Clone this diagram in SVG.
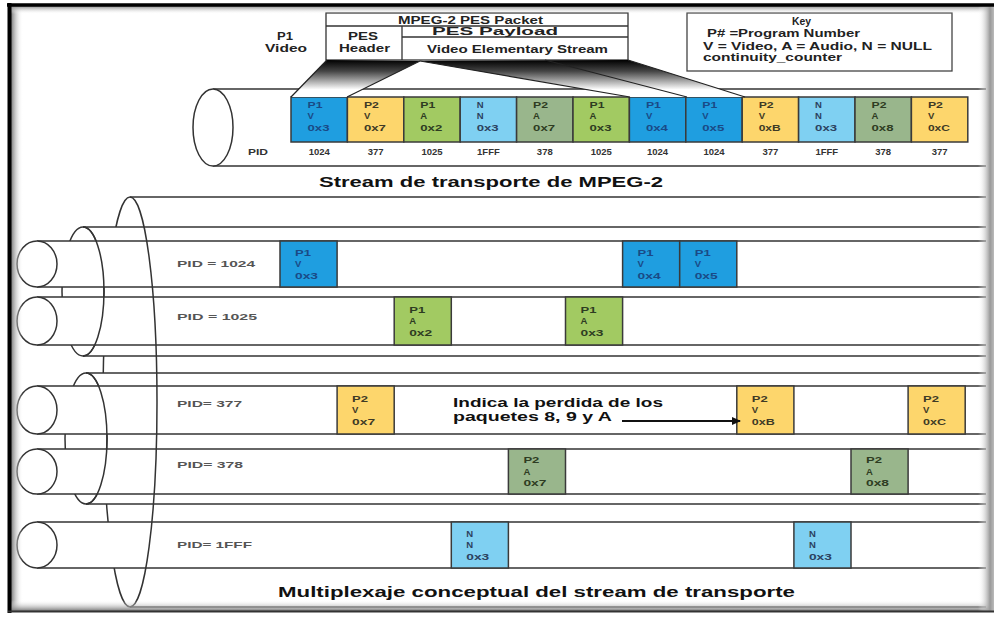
<svg xmlns="http://www.w3.org/2000/svg" width="994" height="617" viewBox="0 0 994 617">
<style>
text{font-family:"Liberation Sans",Arial,sans-serif;font-weight:bold}
.ln{stroke:#333;stroke-width:1.5;fill:none}
.wf{fill:#fff;stroke:none}
.el{fill:#fff;stroke:#333;stroke-width:1.5}
.pk{stroke:#3a3a3a;stroke-width:1.5}
.db{fill:#1f9ee0}.lb{fill:#7fd0f2}.ye{fill:#fdd66c}.lg{fill:#a2ca62}.gg{fill:#99b68c}
.tdb{fill:#1a4a86}.tlb{fill:#2c4260}.tye{fill:#3e3a26}.tg{fill:#2e3c22}
.bt{font-size:9.5px}
.hd{font-size:10px;fill:#222}
.ky{font-size:10.5px;fill:#222}
.pid{font-size:9.5px;fill:#333}
.lab{font-size:9.5px;fill:#555}
.ttl{font-size:15px;fill:#111}
.ann{font-size:12.5px;fill:#111}
.wl{stroke:#222;stroke-width:1.2}
</style>
<defs>
<linearGradient id="wedge" x1="0" y1="0" x2="0" y2="1">
<stop offset="0" stop-color="#000"/><stop offset="0.3" stop-color="#444"/><stop offset="0.8" stop-color="#fff"/>
</linearGradient>
<linearGradient id="gL" x1="0" y1="0" x2="1" y2="0"><stop offset="0" stop-color="#777"/><stop offset="1" stop-color="#fff" stop-opacity="0"/></linearGradient>
<linearGradient id="gT" x1="0" y1="0" x2="0" y2="1"><stop offset="0" stop-color="#888"/><stop offset="1" stop-color="#fff" stop-opacity="0"/></linearGradient>
<linearGradient id="gB" x1="0" y1="1" x2="0" y2="0"><stop offset="0" stop-color="#777"/><stop offset="1" stop-color="#fff" stop-opacity="0"/></linearGradient>
<linearGradient id="gR" x1="1" y1="0" x2="0" y2="0"><stop offset="0" stop-color="#bbb"/><stop offset="0.25" stop-color="#999"/><stop offset="1" stop-color="#fff" stop-opacity="0"/></linearGradient>
<marker id="ah" markerWidth="9" markerHeight="8" refX="8" refY="4" orient="auto" markerUnits="userSpaceOnUse"><path d="M0,0 L9,4 L0,8 z" fill="#111"/></marker>
</defs>
<rect x="0" y="0" width="994" height="617" fill="#fff"/>

<!-- Header: PES packet -->
<g id="pes-packet">
<rect x="326" y="13" width="302" height="47" fill="#fff" stroke="#333" stroke-width="1.3"/>
<line x1="326" y1="26" x2="628" y2="26" stroke="#333" stroke-width="1.3"/>
<line x1="402" y1="26" x2="402" y2="60" stroke="#333" stroke-width="1.3"/>
<line x1="402" y1="37" x2="628" y2="37" stroke="#333" stroke-width="1.3"/>
<text class="hd" x="398" y="23.5" textLength="145" lengthAdjust="spacingAndGlyphs">MPEG-2 PES Packet</text>
<text class="hd" x="432" y="35" textLength="126" lengthAdjust="spacingAndGlyphs">PES Payload</text>
<text class="hd" x="348" y="39.5" textLength="30" lengthAdjust="spacingAndGlyphs">PES</text>
<text class="hd" x="339" y="52" textLength="51" lengthAdjust="spacingAndGlyphs">Header</text>
<text class="hd" x="427" y="52.5" textLength="181" lengthAdjust="spacingAndGlyphs">Video Elementary Stream</text>
</g>
<g id="p1-video">
<text class="hd" x="277" y="39.5" textLength="16" lengthAdjust="spacingAndGlyphs">P1</text>
<text class="hd" x="265" y="52" textLength="42" lengthAdjust="spacingAndGlyphs">Video</text>
</g>
<g id="key">
<rect x="687" y="13" width="265" height="58" fill="#fff" stroke="#444" stroke-width="1.3"/>
<text class="ky" x="792" y="25" textLength="19" lengthAdjust="spacingAndGlyphs">Key</text>
<text class="ky" x="707" y="37" textLength="153" lengthAdjust="spacingAndGlyphs">P# =Program Number</text>
<text class="ky" x="703" y="49.5" textLength="229" lengthAdjust="spacingAndGlyphs">V = Video, A = Audio, N = NULL</text>
<text class="ky" x="703" y="61" textLength="139" lengthAdjust="spacingAndGlyphs">continuity_counter</text>
</g>

<!-- Top transport stream pipe -->
<g id="ts-pipe">
<rect class="wf" x="213" y="89" width="773" height="77"/>
<line class="ln" x1="213" y1="89" x2="986" y2="89"/>
<line class="ln" x1="213" y1="166" x2="986" y2="166"/>
<ellipse class="el" cx="213" cy="127.5" rx="20" ry="38.5"/>
<text class="pid" x="248" y="155" textLength="20" lengthAdjust="spacingAndGlyphs">PID</text>
</g>

<g id="ts-packets">
<g id="ts0"><rect class="pk db" x="291" y="97" width="56.4" height="45"/><text class="bt tdb" x="307.5" y="108" textLength="15" lengthAdjust="spacingAndGlyphs">P1</text><text class="bt tdb" x="307.5" y="119">V</text><text class="bt tdb" x="307.5" y="130.5" textLength="22" lengthAdjust="spacingAndGlyphs">0x3</text><text class="pid" x="319.2" y="155" text-anchor="middle">1024</text></g>
<g id="ts1"><rect class="pk ye" x="347.4" y="97" width="56.4" height="45"/><text class="bt tye" x="363.9" y="108" textLength="15" lengthAdjust="spacingAndGlyphs">P2</text><text class="bt tye" x="363.9" y="119">V</text><text class="bt tye" x="363.9" y="130.5" textLength="22" lengthAdjust="spacingAndGlyphs">0x7</text><text class="pid" x="375.6" y="155" text-anchor="middle">377</text></g>
<g id="ts2"><rect class="pk lg" x="403.8" y="97" width="56.4" height="45"/><text class="bt tg" x="420.3" y="108" textLength="15" lengthAdjust="spacingAndGlyphs">P1</text><text class="bt tg" x="420.3" y="119">A</text><text class="bt tg" x="420.3" y="130.5" textLength="22" lengthAdjust="spacingAndGlyphs">0x2</text><text class="pid" x="432" y="155" text-anchor="middle">1025</text></g>
<g id="ts3"><rect class="pk lb" x="460.2" y="97" width="56.4" height="45"/><text class="bt tlb" x="476.7" y="108">N</text><text class="bt tlb" x="476.7" y="119">N</text><text class="bt tlb" x="476.7" y="130.5" textLength="22" lengthAdjust="spacingAndGlyphs">0x3</text><text class="pid" x="488.4" y="155" text-anchor="middle">1FFF</text></g>
<g id="ts4"><rect class="pk gg" x="516.6" y="97" width="56.4" height="45"/><text class="bt tg" x="533.1" y="108" textLength="15" lengthAdjust="spacingAndGlyphs">P2</text><text class="bt tg" x="533.1" y="119">A</text><text class="bt tg" x="533.1" y="130.5" textLength="22" lengthAdjust="spacingAndGlyphs">0x7</text><text class="pid" x="544.8" y="155" text-anchor="middle">378</text></g>
<g id="ts5"><rect class="pk lg" x="573" y="97" width="56.4" height="45"/><text class="bt tg" x="589.5" y="108" textLength="15" lengthAdjust="spacingAndGlyphs">P1</text><text class="bt tg" x="589.5" y="119">A</text><text class="bt tg" x="589.5" y="130.5" textLength="22" lengthAdjust="spacingAndGlyphs">0x3</text><text class="pid" x="601.2" y="155" text-anchor="middle">1025</text></g>
<g id="ts6"><rect class="pk db" x="629.4" y="97" width="56.4" height="45"/><text class="bt tdb" x="645.9" y="108" textLength="15" lengthAdjust="spacingAndGlyphs">P1</text><text class="bt tdb" x="645.9" y="119">V</text><text class="bt tdb" x="645.9" y="130.5" textLength="22" lengthAdjust="spacingAndGlyphs">0x4</text><text class="pid" x="657.6" y="155" text-anchor="middle">1024</text></g>
<g id="ts7"><rect class="pk db" x="685.8" y="97" width="56.4" height="45"/><text class="bt tdb" x="702.3" y="108" textLength="15" lengthAdjust="spacingAndGlyphs">P1</text><text class="bt tdb" x="702.3" y="119">V</text><text class="bt tdb" x="702.3" y="130.5" textLength="22" lengthAdjust="spacingAndGlyphs">0x5</text><text class="pid" x="714" y="155" text-anchor="middle">1024</text></g>
<g id="ts8"><rect class="pk ye" x="742.2" y="97" width="56.4" height="45"/><text class="bt tye" x="758.7" y="108" textLength="15" lengthAdjust="spacingAndGlyphs">P2</text><text class="bt tye" x="758.7" y="119">V</text><text class="bt tye" x="758.7" y="130.5" textLength="22" lengthAdjust="spacingAndGlyphs">0xB</text><text class="pid" x="770.4" y="155" text-anchor="middle">377</text></g>
<g id="ts9"><rect class="pk lb" x="798.6" y="97" width="56.4" height="45"/><text class="bt tlb" x="815.1" y="108">N</text><text class="bt tlb" x="815.1" y="119">N</text><text class="bt tlb" x="815.1" y="130.5" textLength="22" lengthAdjust="spacingAndGlyphs">0x3</text><text class="pid" x="826.8" y="155" text-anchor="middle">1FFF</text></g>
<g id="ts10"><rect class="pk gg" x="855" y="97" width="56.4" height="45"/><text class="bt tg" x="871.5" y="108" textLength="15" lengthAdjust="spacingAndGlyphs">P2</text><text class="bt tg" x="871.5" y="119">A</text><text class="bt tg" x="871.5" y="130.5" textLength="22" lengthAdjust="spacingAndGlyphs">0x8</text><text class="pid" x="883.2" y="155" text-anchor="middle">378</text></g>
<g id="ts11"><rect class="pk ye" x="911.4" y="97" width="56.4" height="45"/><text class="bt tye" x="927.9" y="108" textLength="15" lengthAdjust="spacingAndGlyphs">P2</text><text class="bt tye" x="927.9" y="119">V</text><text class="bt tye" x="927.9" y="130.5" textLength="22" lengthAdjust="spacingAndGlyphs">0xC</text><text class="pid" x="939.6" y="155" text-anchor="middle">377</text></g>
</g>

<g id="title-ts"><text class="ttl" x="319" y="187" textLength="344" lengthAdjust="spacingAndGlyphs">Stream de transporte de MPEG-2</text></g>

<!-- Multiplex pipes -->
<g id="pipe-mux">
<rect class="wf" x="130" y="197" width="856" height="410"/>
<line class="ln" x1="130" y1="197" x2="986" y2="197"/>
<line class="ln" x1="130" y1="607" x2="986" y2="607"/>
<path class="ln" d="M130,197 A27,205 0 0 0 130,607"/>
</g>

<g id="pipe-program1">
<rect class="wf" x="83" y="227" width="903" height="129"/>
<line class="ln" x1="83" y1="227" x2="986" y2="227"/>
<line class="ln" x1="83" y1="356" x2="986" y2="356"/>
<ellipse class="el" cx="83" cy="291.5" rx="21" ry="64.5"/>
</g>
<g id="pipe-1024">
<rect class="wf" x="37" y="241" width="949" height="46"/>
<line class="ln" x1="37" y1="241" x2="986" y2="241"/>
<line class="ln" x1="37" y1="287" x2="986" y2="287"/>
<ellipse class="el" cx="37" cy="264" rx="20" ry="23"/>
<text class="lab" x="177" y="267" textLength="78" lengthAdjust="spacingAndGlyphs">PID = 1024</text>
</g>
<g id="pipe-1025">
<rect class="wf" x="37" y="297" width="949" height="48"/>
<line class="ln" x1="37" y1="297" x2="986" y2="297"/>
<line class="ln" x1="37" y1="345" x2="986" y2="345"/>
<ellipse class="el" cx="37" cy="321" rx="20" ry="24"/>
<text class="lab" x="177" y="320" textLength="80" lengthAdjust="spacingAndGlyphs">PID = 1025</text>
</g>
<path class="ln" d="M83,227 A21,64.5 0 0 1 83,356"/>

<g id="pipe-program2">
<rect class="wf" x="86" y="373" width="900" height="131"/>
<line class="ln" x1="86" y1="373" x2="986" y2="373"/>
<line class="ln" x1="86" y1="504" x2="986" y2="504"/>
<ellipse class="el" cx="86" cy="438.5" rx="21" ry="65.5"/>
</g>
<g id="pipe-377">
<rect class="wf" x="37" y="386" width="949" height="48"/>
<line class="ln" x1="37" y1="386" x2="986" y2="386"/>
<line class="ln" x1="37" y1="434" x2="986" y2="434"/>
<ellipse class="el" cx="37" cy="410" rx="20" ry="24"/>
<text class="lab" x="177" y="407" textLength="65" lengthAdjust="spacingAndGlyphs">PID= 377</text>
</g>
<g id="pipe-378">
<rect class="wf" x="37" y="449" width="949" height="45"/>
<line class="ln" x1="37" y1="449" x2="986" y2="449"/>
<line class="ln" x1="37" y1="494" x2="986" y2="494"/>
<ellipse class="el" cx="37" cy="471.5" rx="20" ry="22.5"/>
<text class="lab" x="177" y="468" textLength="66" lengthAdjust="spacingAndGlyphs">PID= 378</text>
</g>
<path class="ln" d="M86,373 A21,65.5 0 0 1 86,504"/>

<g id="pipe-1FFF">
<rect class="wf" x="37" y="522" width="949" height="46"/>
<line class="ln" x1="37" y1="522" x2="986" y2="522"/>
<line class="ln" x1="37" y1="568" x2="986" y2="568"/>
<ellipse class="el" cx="37" cy="545" rx="20" ry="23"/>
<text class="lab" x="177" y="548" textLength="75" lengthAdjust="spacingAndGlyphs">PID= 1FFF</text>
</g>
<path class="ln" d="M130,197 A27,205 0 0 1 130,607"/>

<!-- Demultiplexed packets -->
<g id="pk-1024-0x3"><rect class="pk db" x="280" y="241" width="57.1" height="46"/><text class="bt tdb" x="295" y="255.5" textLength="16" lengthAdjust="spacingAndGlyphs">P1</text><text class="bt tdb" x="295" y="267">V</text><text class="bt tdb" x="295" y="278.5" textLength="23" lengthAdjust="spacingAndGlyphs">0x3</text></g>
<g id="pk-1024-0x4"><rect class="pk db" x="622.6" y="241" width="57.1" height="46"/><text class="bt tdb" x="637.6" y="255.5" textLength="16" lengthAdjust="spacingAndGlyphs">P1</text><text class="bt tdb" x="637.6" y="267">V</text><text class="bt tdb" x="637.6" y="278.5" textLength="23" lengthAdjust="spacingAndGlyphs">0x4</text></g>
<g id="pk-1024-0x5"><rect class="pk db" x="679.7" y="241" width="57.1" height="46"/><text class="bt tdb" x="694.7" y="255.5" textLength="16" lengthAdjust="spacingAndGlyphs">P1</text><text class="bt tdb" x="694.7" y="267">V</text><text class="bt tdb" x="694.7" y="278.5" textLength="23" lengthAdjust="spacingAndGlyphs">0x5</text></g>

<g id="pk-1025-0x2"><rect class="pk lg" x="394.2" y="297" width="57.1" height="48"/><text class="bt tg" x="409.2" y="312.5" textLength="16" lengthAdjust="spacingAndGlyphs">P1</text><text class="bt tg" x="409.2" y="324">A</text><text class="bt tg" x="409.2" y="335.5" textLength="23" lengthAdjust="spacingAndGlyphs">0x2</text></g>
<g id="pk-1025-0x3"><rect class="pk lg" x="565.5" y="297" width="57.1" height="48"/><text class="bt tg" x="580.5" y="312.5" textLength="16" lengthAdjust="spacingAndGlyphs">P1</text><text class="bt tg" x="580.5" y="324">A</text><text class="bt tg" x="580.5" y="335.5" textLength="23" lengthAdjust="spacingAndGlyphs">0x3</text></g>

<g id="pk-377-0x7"><rect class="pk ye" x="337.1" y="386" width="57.1" height="48"/><text class="bt tye" x="352.1" y="401.5" textLength="16" lengthAdjust="spacingAndGlyphs">P2</text><text class="bt tye" x="352.1" y="413">V</text><text class="bt tye" x="352.1" y="424.5" textLength="23" lengthAdjust="spacingAndGlyphs">0x7</text></g>
<g id="pk-377-0xB"><rect class="pk ye" x="736.8" y="386" width="57.1" height="48"/><text class="bt tye" x="751.8" y="401.5" textLength="16" lengthAdjust="spacingAndGlyphs">P2</text><text class="bt tye" x="751.8" y="413">V</text><text class="bt tye" x="751.8" y="424.5" textLength="23" lengthAdjust="spacingAndGlyphs">0xB</text></g>
<g id="pk-377-0xC"><rect class="pk ye" x="908.1" y="386" width="57.1" height="48"/><text class="bt tye" x="923.1" y="401.5" textLength="16" lengthAdjust="spacingAndGlyphs">P2</text><text class="bt tye" x="923.1" y="413">V</text><text class="bt tye" x="923.1" y="424.5" textLength="23" lengthAdjust="spacingAndGlyphs">0xC</text></g>

<g id="pk-378-0x7"><rect class="pk gg" x="508.4" y="449" width="57.1" height="45"/><text class="bt tg" x="523.4" y="463" textLength="16" lengthAdjust="spacingAndGlyphs">P2</text><text class="bt tg" x="523.4" y="474.5">A</text><text class="bt tg" x="523.4" y="486" textLength="23" lengthAdjust="spacingAndGlyphs">0x7</text></g>
<g id="pk-378-0x8"><rect class="pk gg" x="851" y="449" width="57.1" height="45"/><text class="bt tg" x="866" y="463" textLength="16" lengthAdjust="spacingAndGlyphs">P2</text><text class="bt tg" x="866" y="474.5">A</text><text class="bt tg" x="866" y="486" textLength="23" lengthAdjust="spacingAndGlyphs">0x8</text></g>

<g id="pk-1FFF-a"><rect class="pk lb" x="451.3" y="522" width="57.1" height="46"/><text class="bt tlb" x="466.3" y="536.5">N</text><text class="bt tlb" x="466.3" y="548">N</text><text class="bt tlb" x="466.3" y="559.5" textLength="23" lengthAdjust="spacingAndGlyphs">0x3</text></g>
<g id="pk-1FFF-b"><rect class="pk lb" x="793.9" y="522" width="57.1" height="46"/><text class="bt tlb" x="808.9" y="536.5">N</text><text class="bt tlb" x="808.9" y="548">N</text><text class="bt tlb" x="808.9" y="559.5" textLength="23" lengthAdjust="spacingAndGlyphs">0x3</text></g>

<g id="annotation">
<text class="ann" x="453" y="406.5" textLength="210" lengthAdjust="spacingAndGlyphs">Indica la perdida de los</text>
<text class="ann" x="453" y="421" textLength="159" lengthAdjust="spacingAndGlyphs">paquetes 8, 9 y A</text>
</g>

<g id="title-mux"><text class="ttl" x="278" y="597" textLength="517" lengthAdjust="spacingAndGlyphs">Multiplexaje conceptual del stream de transporte</text></g>

<!-- Connectors: zoom wedges and annotation arrow -->
<g id="connectors">
<polygon points="327,60 420,61 347,97 291,97" fill="url(#wedge)"/>
<line class="wl" x1="327" y1="60" x2="291" y2="97"/>
<line class="wl" x1="420" y1="61" x2="347" y2="97"/>
<polygon points="420,61 628,60 745,97 630,97" fill="url(#wedge)"/>
<line class="wl" x1="420" y1="61" x2="630" y2="97"/>
<line class="wl" x1="545" y1="60" x2="687" y2="97"/>
<line class="wl" x1="628" y1="60" x2="745" y2="97"/>
<line x1="622" y1="421" x2="740" y2="421" stroke="#111" stroke-width="2" marker-end="url(#ah)"/>
</g>

<!-- Frame -->
<g id="frame">
<rect x="11" y="6" width="12" height="605" fill="url(#gL)"/>
<rect x="11" y="6" width="982" height="8" fill="url(#gT)"/>
<rect x="11" y="600" width="982" height="11" fill="url(#gB)"/>
<rect x="978" y="6" width="16" height="605" fill="url(#gR)"/>
<line x1="7" y1="5" x2="994" y2="5" stroke="#000" stroke-width="3.5"/>
<line x1="9.5" y1="3" x2="9.5" y2="613" stroke="#000" stroke-width="4"/>
<line x1="8" y1="611.5" x2="994" y2="611.5" stroke="#333" stroke-width="2"/>
</g>
</svg>
